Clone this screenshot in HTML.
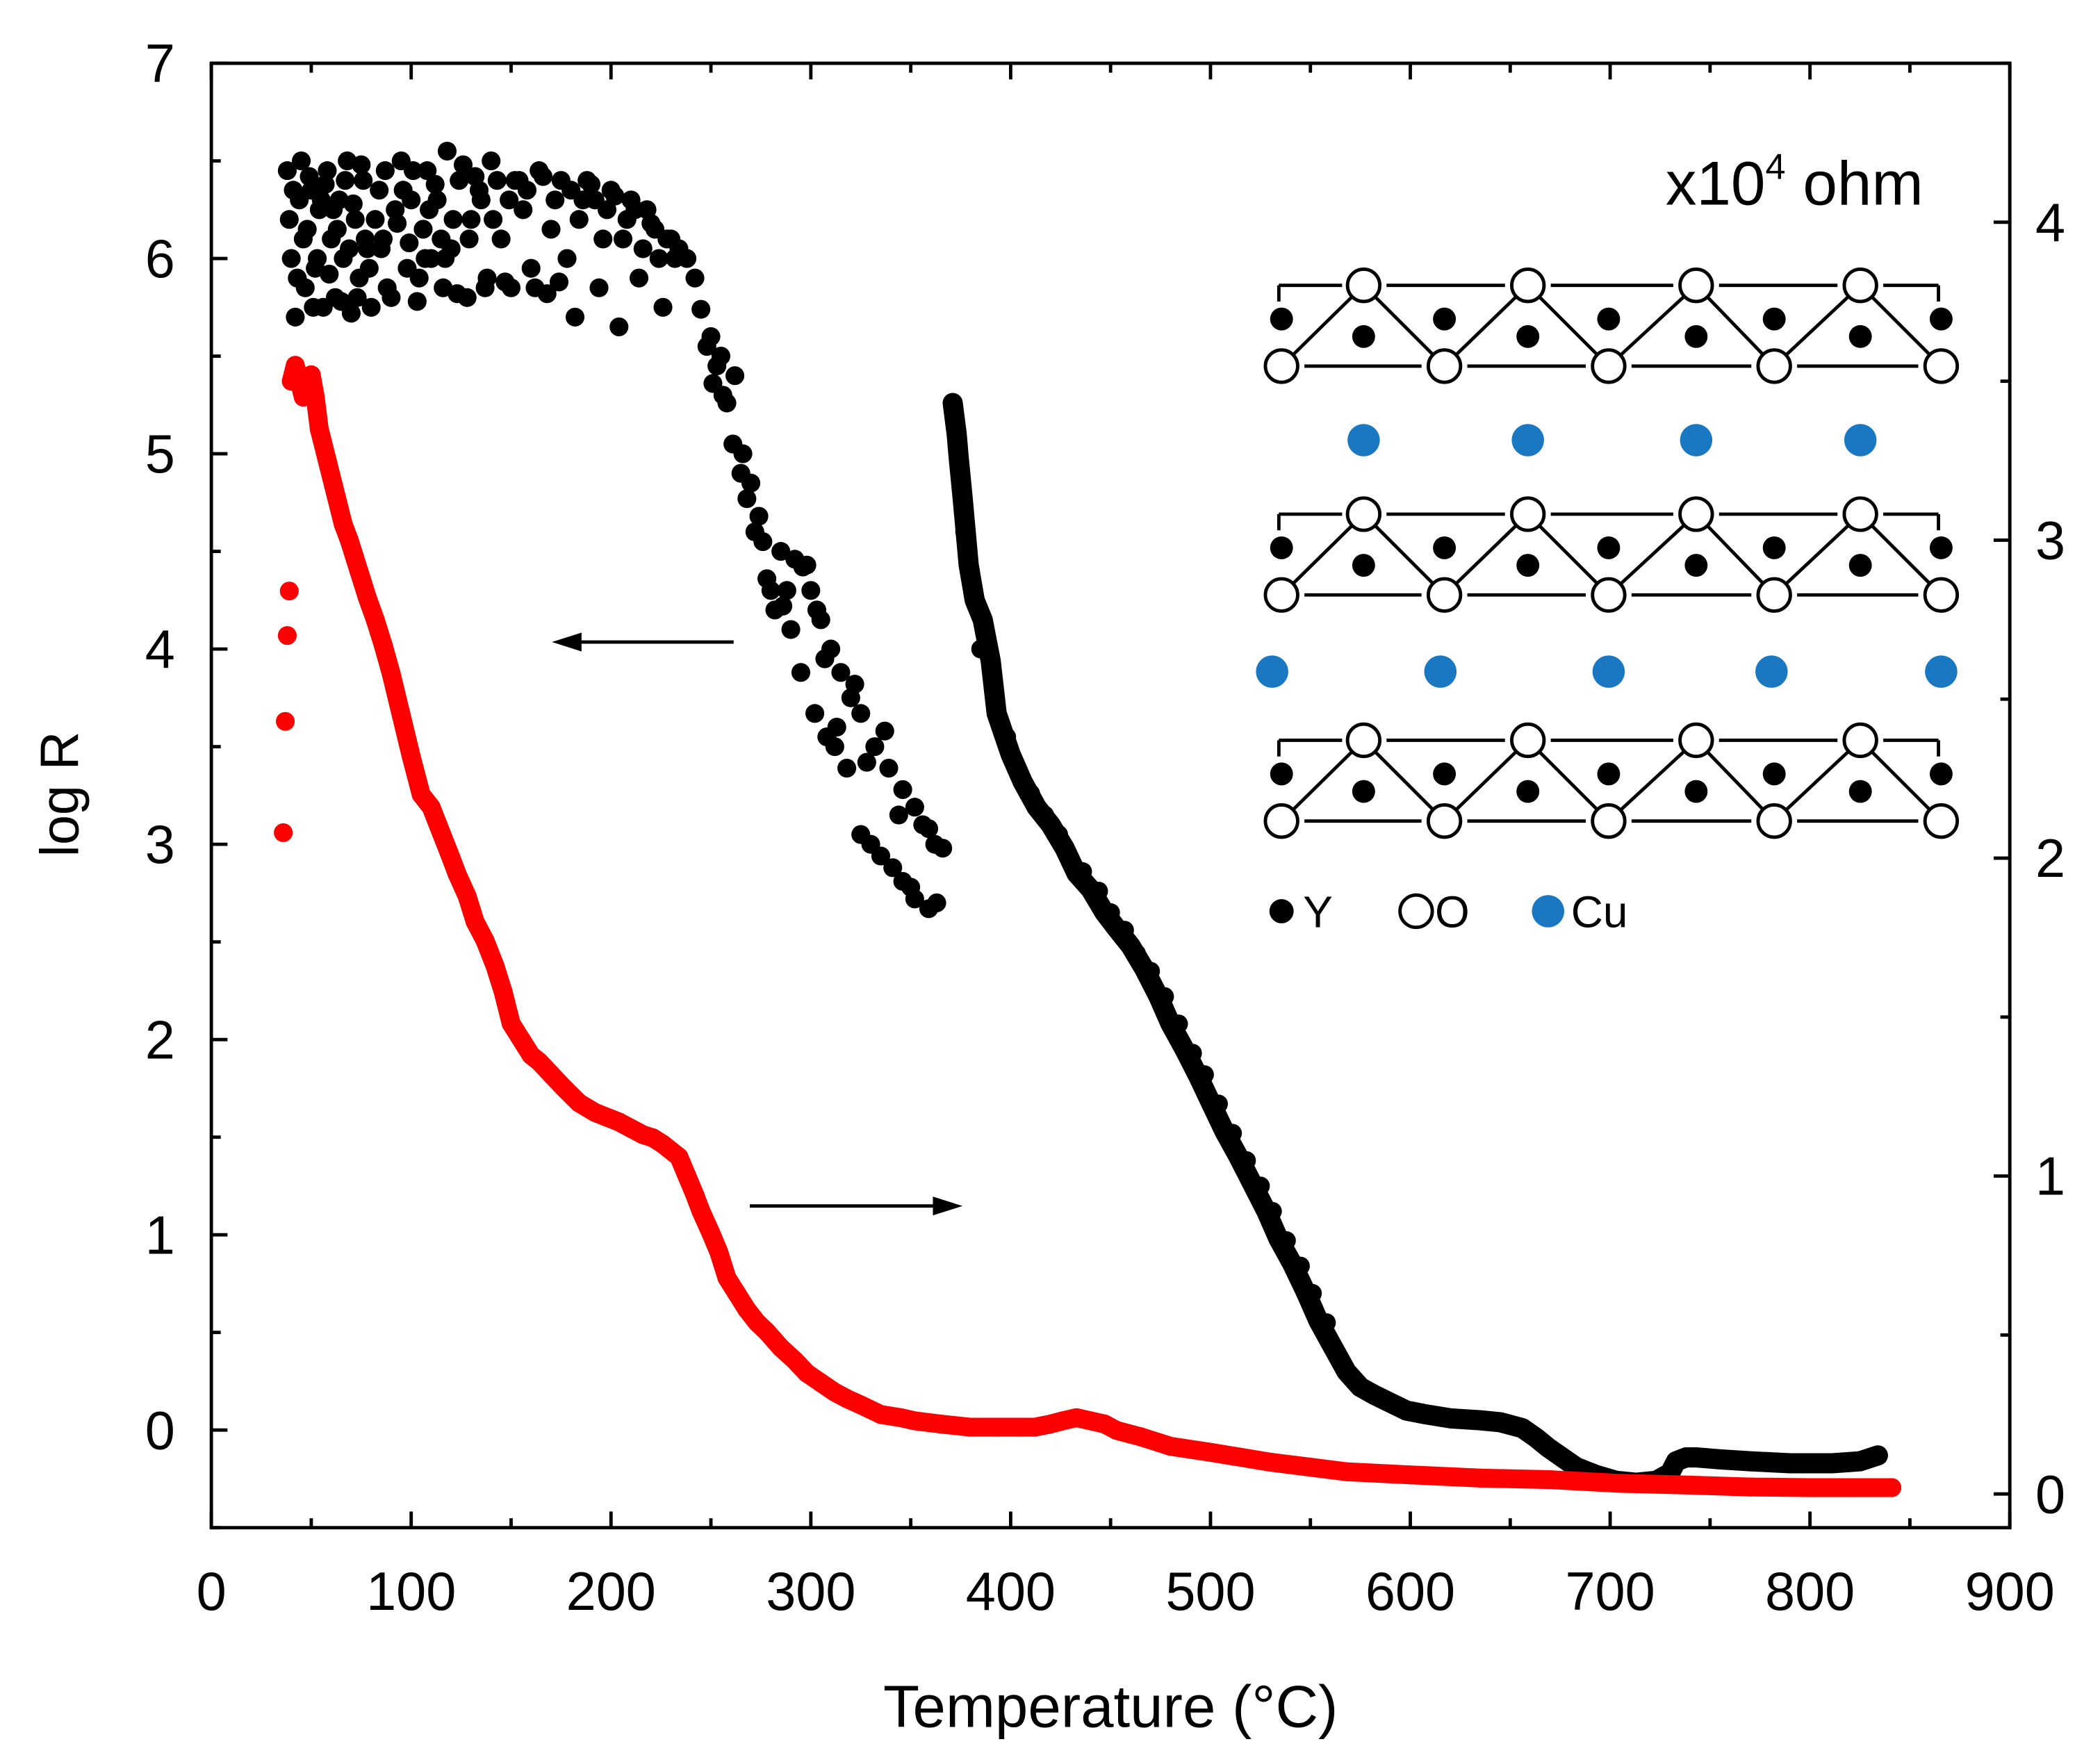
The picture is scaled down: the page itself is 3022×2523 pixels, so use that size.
<!DOCTYPE html>
<html><head><meta charset="utf-8"><style>
html,body{margin:0;padding:0;background:#fff;}
svg{display:block;}
text{font-family:"Liberation Sans",Arial,sans-serif;fill:#000;}
</style></head>
<body>
<svg id="chart" width="3022" height="2523" viewBox="0 0 1560 1302.4" xmlns="http://www.w3.org/2000/svg">
<g id="axes"></g>
<g id="series-black"></g>
<g id="series-red"></g>
<g id="inset"></g>
<text x="1333" y="152" font-size="46" text-anchor="middle">x10<tspan dy="-19" font-size="27">4</tspan><tspan dy="19"> ohm</tspan></text>
<text x="825" y="1283" font-size="44" text-anchor="middle">Temperature (°C)</text>
<text x="0" y="0" font-size="40" text-anchor="middle" transform="translate(58,590) rotate(-90)">log R</text>
<g>
<line x1="545" y1="477" x2="428" y2="477" stroke="#000" stroke-width="2.5"/>
<polygon points="410,477 432,470 432,484" fill="#000"/>
</g>
<g>
<line x1="557" y1="896" x2="697" y2="896" stroke="#000" stroke-width="2.5"/>
<polygon points="715,896 693,889 693,903" fill="#000"/>
</g>
</svg>
<script>
const xTicks=[0,100,200,300,400,500,600,700,800,900];
const yLeftTicks=[0,1,2,3,4,5,6,7];
const yRightTicks=[0,1,2,3,4];
// black series: temperature (°C) and log R
const blackT=[38,40,42,44,45,47,48,50,52,54,56,58,60,62,64,66,68,70,72,74,76,78,80,84,86,88,92,95,98,100,103,106,108,110,113,116,118,120,124,128,130,134,138,140,145,150,152,156,160,164,168,170,175,178,182,186,190,194,196,200,204,208,210,214,218,222,226,230,234,
 238,245,250,251,255,258,261,265,268,272,278,282,285,292,298,305,310,315,320,325,332,339,346,352,359,366,
 286,295,302,308,312,318,325,330,335,341,346,352,359,363,
 371,373,374,376,379,382,386,390,393,397,400,406,413,420,427,433,440,447,453,460,467,474,480,487,494,500,507,514,521,528,534,541,548,554,561,568,575,582,588,598,608,620,635,645,656,663,669,676,683,693,703,713,723,730,733,738,743,755,770,790,811,825,834];
const blackV=[6.45,6.0,5.7,6.3,6.5,5.85,6.15,6.35,5.95,6.25,5.75,6.45,6.1,5.8,6.3,6.0,6.5,5.72,6.2,5.9,6.4,6.05,5.75,6.35,6.1,5.85,6.25,6.5,5.95,6.3,5.78,6.15,6.45,6.0,6.3,5.85,6.55,6.05,6.4,5.8,6.2,6.35,5.9,6.5,6.1,5.85,6.4,6.25,5.95,6.45,5.82,6.15,6.4,6.0,5.7,6.3,6.38,5.85,6.1,6.35,5.65,6.2,6.3,5.9,6.25,6.15,5.75,6.1,6.05,
 6.0,5.74,5.6,5.36,5.5,5.26,5.05,4.9,4.77,4.6,4.36,4.2,4.5,4.46,4.43,4.15,4.0,3.88,3.75,3.67,3.5,3.39,3.28,3.19,3.08,2.98,
 4.22,3.88,3.67,3.55,3.5,3.39,3.05,3.0,2.94,2.88,2.81,2.72,2.67,2.7,
 5.26,5.1,4.98,4.77,4.43,4.25,4.15,3.94,3.67,3.55,3.46,3.32,3.19,3.1,2.98,2.85,2.77,2.65,2.57,2.48,2.36,2.22,2.08,1.95,1.81,1.68,1.53,1.4,1.26,1.12,0.98,0.85,0.7,0.56,0.43,0.3,0.22,0.18,0.15,0.1,0.08,0.06,0.05,0.04,0.01,-0.04,-0.09,-0.14,-0.19,-0.23,-0.26,-0.27,-0.26,-0.22,-0.16,-0.14,-0.14,-0.15,-0.16,-0.17,-0.17,-0.16,-0.13];
// additional scattered black points in the low-temperature cluster and descent
const extraT=[39,41,43,46,49,51,53,55,57,59,61,63,65,67,69,71,73,75,77,79,82,85,87,90,93,96,99,101,104,107,109,112,115,117,121,123,126,129,132,135,137,141,143,147,149,154,158,162,166,172,174,180,184,188,192,198,202,206,212,216,220,224,228,232,
 242,248,253,256,262,266,270,274,276,280,288,290,296,300,303,307,313,322,328,337,344,350,356,362,
 377,381,385,392,398,404,410,417,424,436,444,450,457,463,470,477,484,491,497,504,511,518,525,531,538,545,551,558];
const extraV=[6.2,6.35,5.9,6.1,6.42,5.75,6.0,6.3,6.38,5.92,6.25,6.15,5.78,6.4,6.05,6.28,5.8,6.48,6.1,5.95,6.2,6.05,6.45,5.8,6.18,6.35,6.08,6.45,5.9,6.0,6.25,6.38,6.1,6.0,6.2,5.82,6.48,6.1,6.42,6.3,5.85,6.2,6.4,5.88,6.3,6.4,6.35,5.85,6.42,6.3,5.88,6.35,6.2,6.4,6.3,6.25,6.32,6.1,6.25,6.05,6.18,6.0,6.1,6.0,
 5.9,5.55,5.45,5.3,5.4,5.0,4.85,4.68,4.55,4.3,4.3,4.1,4.42,4.3,4.2,3.95,3.6,3.82,3.42,3.58,3.15,2.78,3.1,3.0,
 4.6,4.3,4.0,3.75,3.55,3.36,3.26,3.15,3.05,2.86,2.76,2.65,2.56,2.44,2.35,2.22,2.08,1.93,1.82,1.67,1.52,1.38,1.25,1.12,0.97,0.84,0.7,0.55];
// red series: temperature (°C) and resistance (x10^4 ohm)
const redT=[36,37,38,39,40,42,44,46,48,50,52,54,58,62,66,69,74,78,82,86,90,95,100,105,110,115,120,123,128,132,137,142,146,150,155,160,164,170,176,184,192,200,204,210,216,221,226,230,234,238,242,245,250,254,258,263,268,273,278,285,292,298,305,312,318,325,335,345,352,365,380,393,405,412,420,426,433,440,447,453,465,480,501,530,568,600,635,670,703,740,770,800,820,841];
const redV=[2.08,2.43,2.70,2.84,3.5,3.55,3.5,3.45,3.5,3.52,3.45,3.35,3.25,3.15,3.05,3.0,2.9,2.82,2.75,2.67,2.58,2.45,2.32,2.2,2.16,2.08,2.0,1.95,1.88,1.8,1.74,1.66,1.58,1.48,1.43,1.38,1.36,1.32,1.28,1.23,1.2,1.18,1.17,1.15,1.13,1.12,1.1,1.08,1.06,1.0,0.94,0.89,0.82,0.76,0.68,0.63,0.58,0.54,0.51,0.46,0.42,0.38,0.35,0.32,0.3,0.28,0.25,0.24,0.23,0.22,0.21,0.21,0.21,0.21,0.22,0.23,0.24,0.23,0.22,0.20,0.18,0.15,0.13,0.10,0.07,0.06,0.05,0.045,0.034,0.028,0.022,0.02,0.02,0.02];

const NS="http://www.w3.org/2000/svg";
const L=157,R=1493,T=47,B=1135;
function xs(v){return L+(v-0)/900*(R-L);}
function yl(v){return B-(v+0.5)/7.5*(B-T);}
function yr(v){return B-(v+0.106)/4.606*(B-T);}
function mk(tag,attrs,parent){const e=document.createElementNS(NS,tag);for(const k in attrs)e.setAttribute(k,attrs[k]);parent.appendChild(e);return e;}

const ax=document.getElementById('axes');
const frame=mk('rect',{x:L,y:T,width:R-L,height:B-T,fill:'none',stroke:'#000','stroke-width':2.5},ax);


for(let i=0;i<xTicks.length;i++){
  const v=xTicks[i],x=xs(v);
  mk('line',{x1:x,y1:B,x2:x,y2:B-12,stroke:'#000','stroke-width':2.5},ax);
  mk('line',{x1:x,y1:T,x2:x,y2:T+12,stroke:'#000','stroke-width':2.5},ax);
  if(i<xTicks.length-1){const xm=xs(v+50);
    mk('line',{x1:xm,y1:B,x2:xm,y2:B-7,stroke:'#000','stroke-width':2.5},ax);
    mk('line',{x1:xm,y1:T,x2:xm,y2:T+7,stroke:'#000','stroke-width':2.5},ax);}
  const t=mk('text',{x:x,y:1196,'font-size':40,'text-anchor':'middle'},ax);
  t.textContent=v;
  
  
}
for(let i=0;i<yLeftTicks.length;i++){
  const v=yLeftTicks[i],y=yl(v);
  mk('line',{x1:L,y1:y,x2:L+12,y2:y,stroke:'#000','stroke-width':2.5},ax);
  const ym=yl(v-0.5);
  mk('line',{x1:L,y1:ym,x2:L+7,y2:ym,stroke:'#000','stroke-width':2.5},ax);
  const t=mk('text',{x:130,y:y+14,'font-size':40,'text-anchor':'end'},ax);
  t.textContent=v;
  
  
}
for(let i=0;i<yRightTicks.length;i++){
  const v=yRightTicks[i],y=yr(v);
  mk('line',{x1:R,y1:y,x2:R-12,y2:y,stroke:'#000','stroke-width':2.5},ax);
  const ym=yr(v+0.5);
  mk('line',{x1:R,y1:ym,x2:R-7,y2:ym,stroke:'#000','stroke-width':2.5},ax);
  const t=mk('text',{x:1512,y:y+14,'font-size':40,'text-anchor':'start'},ax);
  t.textContent=v;
  
  
}

const gb=document.getElementById('series-black');
const tailStart=blackT.indexOf(371);
let pts=[];for(let i=tailStart;i<blackT.length;i++)pts.push(xs(blackT[i])+','+yl(blackV[i]));
const pl=mk('polyline',{points:pts.join(' '),fill:'none',stroke:'#000','stroke-width':15,'stroke-linejoin':'round','stroke-linecap':'round'},gb);


for(let i=0;i<blackT.length;i++){
  const c=mk('circle',{cx:xs(blackT[i]),cy:yl(blackV[i]),r:7,fill:'#000'},gb);
  
  
}
for(let i=0;i<extraT.length;i++){
  const c=mk('circle',{cx:xs(extraT[i]),cy:yl(extraV[i]),r:7,fill:'#000'},gb);
  
  
}

const gr=document.getElementById('series-red');
let rp=[];for(let i=4;i<redT.length;i++)rp.push(xs(redT[i])+','+yr(redV[i]));
const rl=mk('polyline',{points:rp.join(' '),fill:'none',stroke:'#f00','stroke-width':14,'stroke-linejoin':'round','stroke-linecap':'round'},gr);


for(let i=0;i<redT.length;i++){
  const c=mk('circle',{cx:xs(redT[i]),cy:yr(redV[i]),r:7,fill:'#f00'},gr);
  
  
}

// inset schematic
const gi=document.getElementById('inset');
const topX=[1013,1135,1260,1382], botX=[952,1073,1195,1318,1442];
const layers=[0,170,338];
for(const off of layers){
  const yt=212+off, yb=272+off;
  const segsT=[[950,997],[1030,1118],[1152,1243],[1277,1365],[1399,1440]];
  for(const s of segsT) mk('line',{x1:s[0],y1:yt,x2:s[1],y2:yt,stroke:'#000','stroke-width':2.5},gi);
  mk('line',{x1:950,y1:yt,x2:950,y2:yt+12,stroke:'#000','stroke-width':2.5},gi);
  mk('line',{x1:1440,y1:yt,x2:1440,y2:yt+12,stroke:'#000','stroke-width':2.5},gi);
  for(let i=0;i<4;i++){
    mk('line',{x1:botX[i],y1:yb,x2:topX[i],y2:yt,stroke:'#000','stroke-width':2.5},gi);
    mk('line',{x1:topX[i],y1:yt,x2:botX[i+1],y2:yb,stroke:'#000','stroke-width':2.5},gi);
    mk('line',{x1:botX[i]+17,y1:yb,x2:botX[i+1]-17,y2:yb,stroke:'#000','stroke-width':2.5},gi);
  }
  for(const x of botX){mk('circle',{cx:x,cy:yt+25,r:8.5,fill:'#000'},gi);
    mk('circle',{cx:x,cy:yb,r:12,fill:'#fff',stroke:'#000','stroke-width':2.5},gi);}
  for(const x of topX){mk('circle',{cx:x,cy:yt+38,r:8.5,fill:'#000'},gi);
    mk('circle',{cx:x,cy:yt,r:12,fill:'#fff',stroke:'#000','stroke-width':2.5},gi);}
}
for(const x of topX) mk('circle',{cx:x,cy:327,r:12,fill:'#1a78c2'},gi);
for(const x of [945,1070,1195,1316,1442]) mk('circle',{cx:x,cy:499,r:12,fill:'#1a78c2'},gi);
// legend
mk('circle',{cx:952,cy:677,r:9,fill:'#000'},gi);
mk('circle',{cx:1052,cy:677,r:12,fill:'#fff',stroke:'#000','stroke-width':2.5},gi);
mk('circle',{cx:1150,cy:677,r:12,fill:'#1a78c2'},gi);
const l1=mk('text',{x:968,y:689,'font-size':33},gi);l1.textContent='Y';


const l2=mk('text',{x:1066,y:689,'font-size':33},gi);l2.textContent='O';


const l3=mk('text',{x:1167,y:689,'font-size':33},gi);l3.textContent='Cu';


</script>
</body></html>
